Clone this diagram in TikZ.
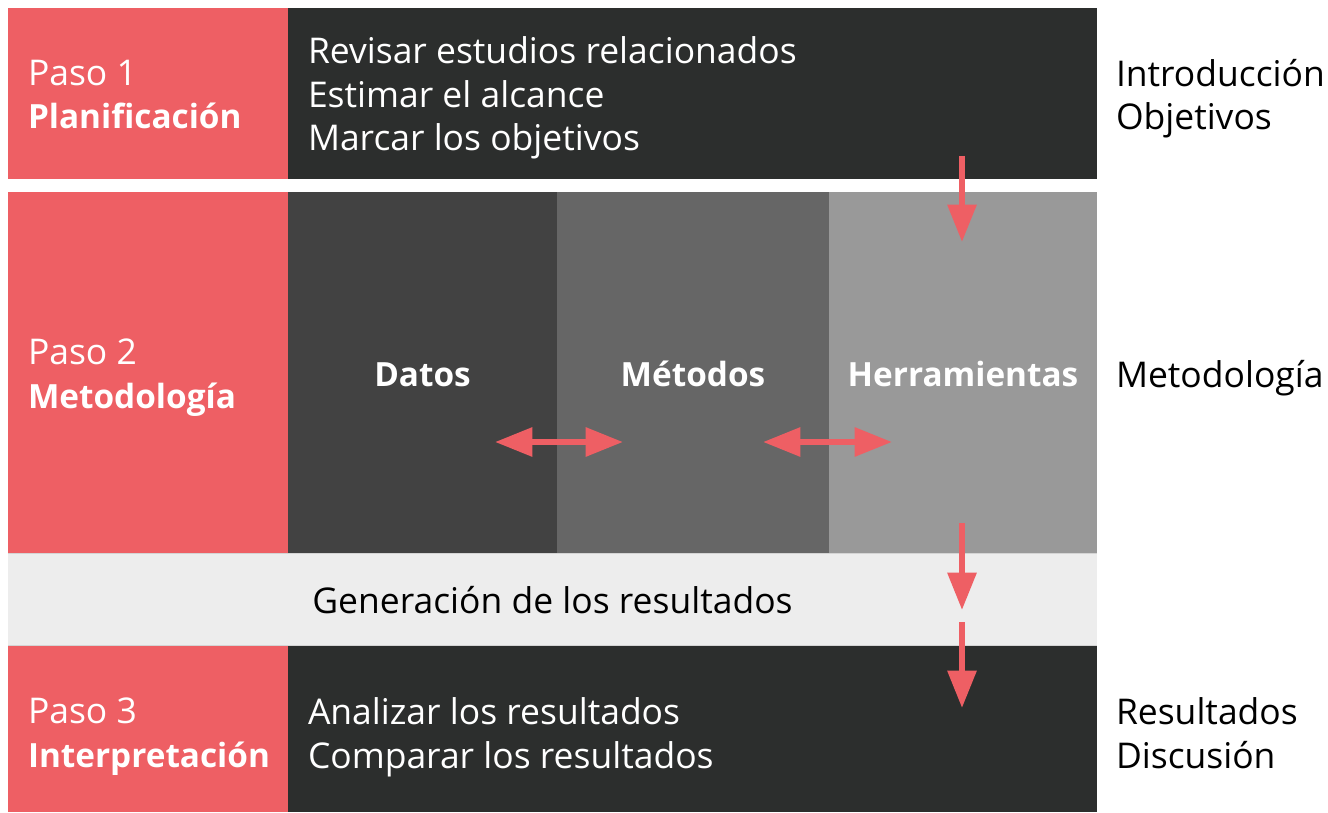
\documentclass[tikz,border=0pt]{standalone}
\usepackage{fontspec}
\setmainfont{Open Sans}
\usetikzlibrary{arrows.meta,positioning}

\definecolor{rojo}{HTML}{EE5F64}
\definecolor{oscuro}{HTML}{2C2E2D}
\definecolor{grisA}{HTML}{424242}
\definecolor{grisB}{HTML}{666666}
\definecolor{grisC}{HTML}{999999}
\definecolor{claro}{HTML}{EDEDED}
\definecolor{borde}{HTML}{D4D4D4}

\newcommand{\fuerte}[1]{{\fontsize{25}{32.5}\selectfont\bfseries #1}}

\tikzset{
  texto/.style={inner sep=0pt, outer sep=0pt, align=left,
    font=\fontsize{26.6}{32.5}\selectfont},
  blanco/.style={texto, text=white},
  negro/.style={texto, text=black},
  negrita/.style={blanco, font=\fontsize{25}{32.5}\selectfont\bfseries},
  flecha/.style={rojo, line width=4.5pt,
    -{Triangle[length=28pt,width=21pt]}},
  flechas/.style={rojo, line width=4.5pt,
    {Triangle[length=28pt,width=21pt]}-{Triangle[length=28pt,width=21pt]}}
}

\begin{document}
\begin{tikzpicture}[x=0.75pt,y=-0.75pt]
  \useasboundingbox (0,0) rectangle (1328,813);

  % fila 1
  \fill[rojo] (8,8) rectangle (288,179);
  \fill[oscuro] (288,8) rectangle (1097,179);
  % fila 2
  \fill[rojo] (8,192) rectangle (288,553);
  \fill[grisA] (288,192) rectangle (557,553);
  \fill[grisB] (557,192) rectangle (829,553);
  \fill[grisC] (829,192) rectangle (1097,553);
  % resultados
  \fill[claro] (8,553) rectangle (1097,646);
  \draw[borde, line width=0.75pt] (8,553.5) -- (1097,553.5);
  \draw[borde, line width=0.75pt] (8,645.5) -- (1097,645.5);
  % fila 3
  \fill[rojo] (8,646) rectangle (288,812);
  \fill[oscuro] (288,646) rectangle (1097,812);

  \node[blanco, anchor=north west] (paso1) at (28,60) {Paso 1\\\fuerte{Planificación}};
  \node[blanco, anchor=north west] (tareas1) at (308,37)
    {Revisar estudios relacionados\\Estimar el alcance\\Marcar los objetivos};
  \node[negro, anchor=north west] (intro) at (1116,59) {Introducción\\Objetivos};

  \node[blanco, anchor=north west] (paso2) at (28,339) {Paso 2\\\fuerte{Metodología}};
  \node[negrita, anchor=base] (datos) at (422.5,386) {Datos};
  \node[negrita, anchor=base] (metodos) at (693,386) {Métodos};
  \node[negrita, anchor=base] (herram) at (963,386) {Herramientas};
  \node[negro, anchor=base west] (metodo) at (1116,387) {Metodología};

  \node[negro, anchor=base] (generacion) at (552.5,613) {Generación de los resultados};

  \node[blanco, anchor=north west] (paso3) at (28,698) {Paso 3\\\fuerte{Interpretación}};
  \node[blanco, anchor=north west] (tareas3) at (308,698)
    {Analizar los resultados\\Comparar los resultados};
  \node[negro, anchor=north west] (discus) at (1116,698) {Resultados\\Discusión};

  % flechas
  \coordinate (a1) at (962,156);
  \coordinate (a2) at (962,242);
  \coordinate (b1) at (962,523);
  \coordinate (b2) at (962,610);
  \coordinate (c1) at (962,622);
  \coordinate (c2) at (962,708);
  \draw[flecha] (a1) -- (a2);
  \draw[flecha] (b1) -- (b2);
  \draw[flecha] (c1) -- (c2);

  \coordinate (d1) at (495,442);
  \coordinate (d2) at (623,442);
  \coordinate (e1) at (763,442);
  \coordinate (e2) at (892,442);
  \draw[flechas] (d1) -- (d2);
  \draw[flechas] (e1) -- (e2);
\end{tikzpicture}
\end{document}
